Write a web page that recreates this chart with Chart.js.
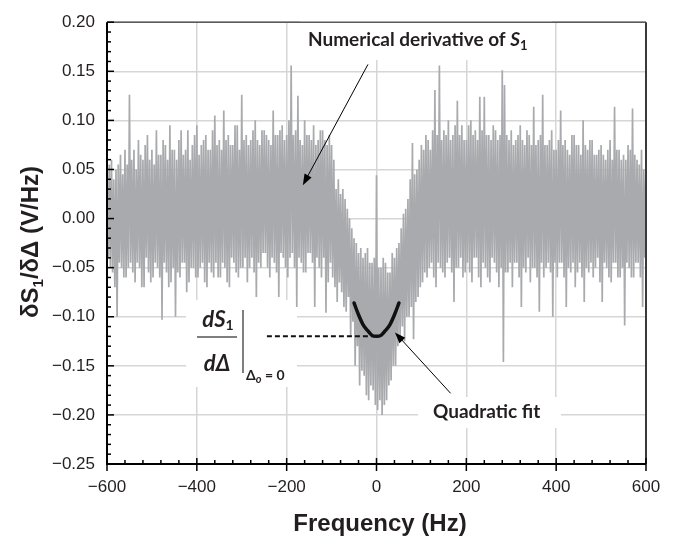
<!DOCTYPE html>
<html>
<head>
<meta charset="utf-8">
<script src="https://cdn.jsdelivr.net/npm/chart.js@4.4.1/dist/chart.umd.min.js"></script>
<style>
  body { margin: 0; background: #fff; }
  #wrap { width: 686px; height: 537px; }
</style>
</head>
<body>
<div id="wrap"><canvas id="chart"></canvas></div>
<script>
// numerical derivative of S1, one sample every 2.5 Hz starting at -600 Hz
const noiseStartHz = -600;
const noiseStepHz = 2.5;
const noiseValues = [
  0.045, -0.040, 0.055, -0.050, 0.060, -0.055, 0.040, -0.070, 0.050, -0.100, 0.055, -0.045, 0.065, -0.050, 0.045, -0.060, 0.070, -0.060, 0.055, -0.050,
  0.126, -0.045, 0.060, -0.055, 0.070, -0.065, 0.050, -0.045, 0.080, -0.050, 0.065, -0.070, 0.060, -0.070, 0.075, -0.040, 0.085, -0.055, 0.060, -0.065,
  0.070, -0.060, 0.055, -0.045, 0.090, -0.050, 0.065, -0.060, 0.065, -0.103, 0.080, -0.045, 0.075, -0.055, 0.060, -0.070, 0.095, -0.065, 0.070, -0.050,
  0.070, -0.100, 0.060, -0.055, 0.080, -0.060, 0.090, -0.045, 0.065, -0.045, 0.070, -0.075, 0.090, -0.065, 0.060, -0.050, 0.075, -0.050, 0.085, -0.060,
  0.095, -0.060, 0.065, -0.050, 0.075, -0.045, 0.080, -0.065, 0.085, -0.070, 0.070, -0.045, 0.070, -0.055, 0.090, -0.060, 0.105, -0.045, 0.075, -0.060,
  0.080, -0.060, 0.070, -0.045, 0.110, -0.050, 0.080, -0.065, 0.085, -0.070, 0.075, -0.040, 0.075, -0.045, 0.095, -0.055, 0.095, -0.060, 0.070, -0.050,
  0.126, -0.050, 0.080, -0.040, 0.085, -0.065, 0.075, -0.050, 0.080, -0.040, 0.090, -0.055, 0.100, -0.080, 0.080, -0.045, 0.075, -0.050, 0.090, -0.035,
  0.090, -0.035, 0.085, -0.050, 0.080, -0.060, 0.075, -0.040, 0.110, -0.045, 0.085, -0.055, 0.085, -0.080, 0.090, -0.035, 0.095, -0.040, 0.080, -0.050,
  0.085, -0.060, 0.100, -0.040, 0.156, -0.035, 0.085, -0.050, 0.090, -0.090, 0.125, -0.040, 0.080, -0.045, 0.075, -0.055, 0.100, -0.055, 0.085, -0.035,
  0.085, -0.035, 0.080, -0.045, 0.095, -0.090, 0.075, -0.040, 0.080, -0.050, 0.090, -0.060, 0.090, -0.040, 0.080, -0.096, 0.075, -0.065, 0.085, -0.045,
  0.075, -0.060, 0.060, -0.070, 0.030, -0.085, 0.040, -0.065, 0.025, -0.075, 0.030, -0.090, 0.020, -0.095, 0.010, -0.080, 0.000, -0.120, -0.010, -0.105,
  -0.020, -0.150, -0.025, -0.130, -0.035, -0.170, -0.030, -0.155, -0.040, -0.160, -0.035, -0.180, -0.030, -0.185, -0.045, -0.170, -0.045, -0.175, -0.040, -0.190,
  0.044, -0.195, -0.050, -0.185, -0.050, -0.200, -0.040, -0.190, -0.045, -0.185, -0.055, -0.170, -0.055, -0.165, -0.035, -0.150, -0.040, -0.150, -0.030, -0.130,
  -0.025, -0.120, -0.010, -0.110, 0.005, -0.125, 0.010, -0.100, 0.020, -0.100, 0.040, -0.090, 0.077, -0.123, 0.045, -0.085, 0.050, -0.080, 0.060, -0.070,
  0.075, -0.065, 0.070, -0.055, 0.085, -0.060, 0.080, -0.050, 0.070, -0.045, 0.090, -0.060, 0.131, -0.070, 0.085, -0.045, 0.156, -0.050, 0.080, -0.055,
  0.090, -0.060, 0.085, -0.045, 0.100, -0.040, 0.080, -0.055, 0.085, -0.085, 0.095, -0.050, 0.120, -0.050, 0.085, -0.040, 0.095, -0.060, 0.080, -0.055,
  0.080, -0.045, 0.095, -0.055, 0.100, -0.065, 0.085, -0.040, 0.090, -0.040, 0.080, -0.060, 0.124, -0.070, 0.090, -0.045, 0.124, -0.050, 0.085, -0.060,
  0.085, -0.065, 0.080, -0.040, 0.095, -0.045, 0.090, -0.055, 0.080, -0.070, 0.085, -0.050, 0.151, -0.146, 0.136, -0.055, 0.085, -0.055, 0.080, -0.045,
  0.090, -0.070, 0.075, -0.045, 0.080, -0.045, 0.085, -0.060, 0.095, -0.090, 0.080, -0.050, 0.075, -0.055, 0.090, -0.040, 0.085, -0.065, 0.075, -0.050,
  0.114, -0.050, 0.075, -0.060, 0.080, -0.095, 0.085, -0.045, 0.126, -0.060, 0.075, -0.050, 0.075, -0.045, 0.080, -0.055, 0.090, -0.100, 0.070, -0.045,
  0.070, -0.060, 0.080, -0.045, 0.110, -0.045, 0.075, -0.060, 0.080, -0.090, 0.070, -0.050, 0.065, -0.055, 0.085, -0.045, 0.085, -0.070, 0.075, -0.055,
  0.075, -0.045, 0.065, -0.060, 0.100, -0.085, 0.075, -0.050, 0.070, -0.055, 0.080, -0.045, 0.080, -0.060, 0.065, -0.050, 0.065, -0.040, 0.070, -0.065,
  0.075, -0.085, 0.065, -0.045, 0.060, -0.050, 0.070, -0.060, 0.080, -0.065, 0.060, -0.045, 0.114, -0.045, 0.070, -0.060, 0.070, -0.060, 0.060, -0.050,
  0.065, -0.109, 0.060, -0.045, 0.075, -0.050, 0.070, -0.060, 0.112, -0.060, 0.065, -0.045, 0.060, -0.045, 0.055, -0.060, 0.070, -0.090, 0.050, -0.040,
  0.060
];

// quadratic fit around the dip
const fitFreq = [-50, -40, -30, -20, -10, 0, 10, 20, 30, 40, 50];
const fitValues = [-0.086, -0.098, -0.108, -0.114, -0.119, -0.120, -0.119, -0.114, -0.108, -0.098, -0.086];

// dashed marker for dS1/dΔ at Δo = 0
const markFreq = [-244, 0];
const markValues = [-0.12, -0.12];

const xTickValues = [-600, -400, -200, 0, 200, 400, 600];
const yTickValues = [-0.25, -0.20, -0.15, -0.10, -0.05, 0.00, 0.05, 0.10, 0.15, 0.20];

const ink = '#231f20';
const sans = '"Liberation Sans", Arial, sans-serif';
const label = '"Lato", "Open Sans", sans-serif';

function drawRuns(ctx, runs, x, y, align) {
  let total = 0;
  runs.forEach(r => { ctx.font = r[1]; total += ctx.measureText(r[0]).width; });
  let cx = align === 'center' ? x - total / 2 : x;
  runs.forEach(r => {
    ctx.font = r[1];
    ctx.fillText(r[0], cx, y + (r[2] || 0));
    cx += ctx.measureText(r[0]).width;
  });
}

function arrow(ctx, x1, y1, x2, y2) {
  const a = Math.atan2(y2 - y1, x2 - x1);
  const len = 11, half = 4;
  ctx.strokeStyle = '#000';
  ctx.fillStyle = '#000';
  ctx.lineWidth = 1;
  ctx.beginPath();
  ctx.moveTo(x1, y1);
  ctx.lineTo(x2 - Math.cos(a) * len * 0.8, y2 - Math.sin(a) * len * 0.8);
  ctx.stroke();
  ctx.beginPath();
  ctx.moveTo(x2, y2);
  ctx.lineTo(x2 - Math.cos(a) * len + Math.sin(a) * half, y2 - Math.sin(a) * len - Math.cos(a) * half);
  ctx.lineTo(x2 - Math.cos(a) * len - Math.sin(a) * half, y2 - Math.sin(a) * len + Math.cos(a) * half);
  ctx.closePath();
  ctx.fill();
}

const decor = {
  id: 'decor',
  beforeDatasetsDraw(chart) {
    // white boxes behind the labels hide the grid there
    const ctx = chart.ctx;
    ctx.save();
    ctx.fillStyle = '#fff';
    ctx.fillRect(300, 16, 252, 44);
    ctx.fillRect(186, 300, 111, 87);
    ctx.fillRect(418, 397, 143, 31);
    ctx.restore();
  },
  afterDraw(chart) {
    const ctx = chart.ctx;
    const a = chart.chartArea;
    const xs = chart.scales.x, ys = chart.scales.y;
    ctx.save();

    // frame
    ctx.strokeStyle = '#595959';
    ctx.lineWidth = 1.5;
    ctx.beginPath();
    ctx.moveTo(a.left, a.top); ctx.lineTo(a.right, a.top);
    ctx.stroke();
    ctx.strokeStyle = '#3a3a3a';
    ctx.lineWidth = 2;
    ctx.beginPath();
    ctx.moveTo(a.right, a.top); ctx.lineTo(a.right, a.bottom);
    ctx.stroke();
    ctx.strokeStyle = '#000';
    ctx.beginPath();
    ctx.moveTo(a.left, a.top); ctx.lineTo(a.left, a.bottom); ctx.lineTo(a.right, a.bottom);
    ctx.stroke();

    // tick marks, pointing inward
    ctx.lineWidth = 1.5;
    for (let k = -25; k <= 20; k++) {
      const y = ys.getPixelForValue(k / 100);
      const major = k % 5 === 0;
      ctx.beginPath();
      ctx.moveTo(a.left, y); ctx.lineTo(a.left + (major ? 7 : 4), y);
      ctx.stroke();
    }
    for (let f = -600; f <= 600; f += 40) {
      const x = xs.getPixelForValue(f);
      const major = f % 200 === 0;
      ctx.beginPath();
      ctx.moveTo(x, a.bottom - (major ? 6 : 4)); ctx.lineTo(x, a.bottom + (major ? 7 : 0));
      ctx.stroke();
    }

    // arrows
    arrow(ctx, xs.getPixelForValue(-19), ys.getPixelForValue(0.157), xs.getPixelForValue(-164), ys.getPixelForValue(0.034));
    arrow(ctx, xs.getPixelForValue(165), ys.getPixelForValue(-0.178), xs.getPixelForValue(41), ys.getPixelForValue(-0.116));

    ctx.fillStyle = ink;
    ctx.textBaseline = 'alphabetic';

    // series labels
    drawRuns(ctx, [
      ['Numerical derivative of ', 'bold 19px ' + label],
      ['S', 'italic bold 19px ' + label],
      ['1', 'bold 13px ' + label, 4]
    ], 308, 46, 'left');
    drawRuns(ctx, [['Quadratic fit', 'bold 19px ' + label]], 433, 418, 'left');

    // dS1/dΔ at Δo = 0
    drawRuns(ctx, [
      ['dS', 'italic bold 22px ' + label],
      ['1', 'bold 14px ' + label, 3]
    ], 218, 327, 'center');
    drawRuns(ctx, [['d\u0394', 'italic bold 22px ' + label]], 217, 371, 'center');
    ctx.strokeStyle = '#555';
    ctx.lineWidth = 1.5;
    ctx.beginPath();
    ctx.moveTo(197, 337); ctx.lineTo(237, 337);
    ctx.moveTo(243, 310); ctx.lineTo(243, 373);
    ctx.stroke();
    drawRuns(ctx, [
      ['\u0394', 'bold 14px ' + label],
      ['o', 'italic bold 11px ' + label, 3],
      [' = 0', 'bold 14px ' + label]
    ], 246, 380, 'left');

    // axis titles
    drawRuns(ctx, [['Frequency (Hz)', 'bold 24px ' + sans]], 380, 531, 'center');
    ctx.translate(38, 242);
    ctx.rotate(-Math.PI / 2);
    drawRuns(ctx, [
      ['\u03B4S', 'bold 24px ' + sans],
      ['1', 'bold 15px ' + sans, 5],
      ['/\u03B4\u0394 (V/Hz)', 'bold 24px ' + sans]
    ], 0, 0, 'center');

    ctx.restore();
  }
};

const noisePoints = noiseValues.map((v, i) => ({ x: noiseStartHz + i * noiseStepHz, y: v }));
const fitPoints = fitFreq.map((f, i) => ({ x: f, y: fitValues[i] }));
const markPoints = markFreq.map((f, i) => ({ x: f, y: markValues[i] }));

const minus = s => s.replace('-', '\u2212');

new Chart(document.getElementById('chart'), {
  type: 'line',
  data: {
    datasets: [
      {
        label: 'Quadratic fit',
        data: fitPoints,
        borderColor: '#111',
        borderWidth: 3.5,
        pointRadius: 0,
        cubicInterpolationMode: 'monotone',
        borderCapStyle: 'round'
      },
      {
        label: 'dS1/dΔ',
        data: markPoints,
        borderColor: '#111',
        borderWidth: 2,
        borderDash: [5, 3],
        pointRadius: 0
      },
      {
        label: 'Numerical derivative of S1',
        data: noisePoints,
        borderColor: '#a9aaad',
        borderWidth: 1.7,
        pointRadius: 0,
        tension: 0
      }
    ]
  },
  options: {
    responsive: true,
    maintainAspectRatio: false,
    animation: false,
    layout: { padding: { top: 14, right: 40, bottom: 0, left: 0 } },
    plugins: {
      legend: { display: false },
      tooltip: { enabled: false }
    },
    scales: {
      x: {
        type: 'linear',
        min: -600,
        max: 600,
        afterBuildTicks: s => { s.ticks = xTickValues.map(v => ({ value: v })); },
        afterFit: s => { s.height = 73; },
        ticks: {
          color: ink,
          padding: 13,
          maxRotation: 0,
          font: { family: sans, size: 17 },
          callback: v => minus(String(v))
        },
        grid: { color: '#d6d6d6', lineWidth: 1.5, drawTicks: false },
        border: { display: false }
      },
      y: {
        min: -0.25,
        max: 0.20,
        afterBuildTicks: s => { s.ticks = yTickValues.map(v => ({ value: v })); },
        afterFit: s => { s.width = 107; },
        ticks: {
          color: ink,
          padding: 12,
          font: { family: sans, size: 17 },
          callback: v => minus(Number(v).toFixed(2))
        },
        grid: { color: '#d6d6d6', lineWidth: 1.5, drawTicks: false },
        border: { display: false }
      }
    }
  },
  plugins: [decor]
});
</script>
</body>
</html>
